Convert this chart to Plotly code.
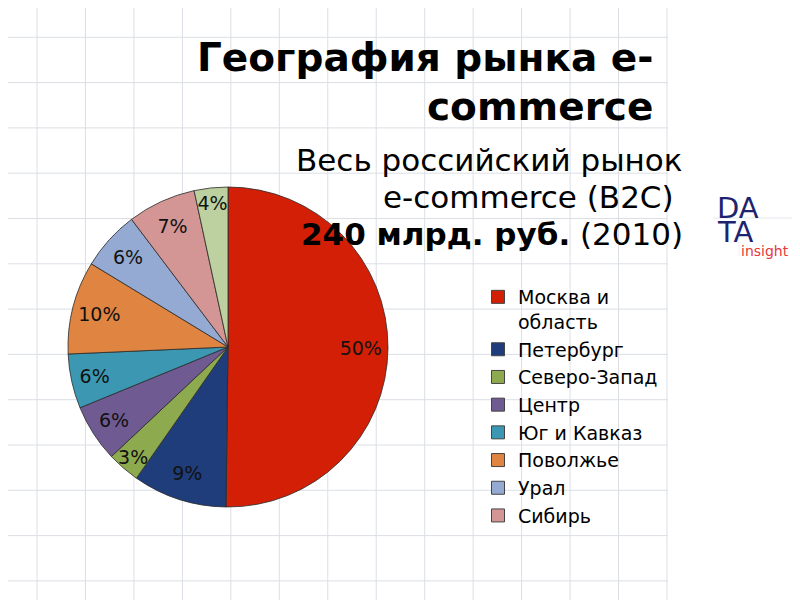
import plotly.graph_objects as go

regions = ["Москва и<br>область", "Петербург", "Северо-Запад", "Центр", "Юг и Кавказ",
           "Поволжье", "Урал", "Сибирь", "Дальний Восток"]
shares = [50.2, 9.5, 3.3, 5.8, 5.5, 9.4, 6.0, 6.9, 3.4]
share_labels = ["50%", "9%", "3%", "6%", "6%", "10%", "6%", "7%", "4%"]
colors = ["#d41f07", "#1f3d7a", "#8eaa4f", "#705a92", "#3c98b2",
          "#df8541", "#94aad2", "#d49695", "#bcd19f"]
legend_count = 8  # the last region is not listed in the legend of the original

W, H = 800, 600
OFF = 8  # the page body margin shifts the figure by this many pixels
FONT = "DejaVu Sans"

def px(x):
    return (x - OFF) / W

def py(y):
    return 1 - (y - OFF) / H

fig = go.Figure()

dom_x = [px(68), px(388)]
dom_y = [py(507), py(187)]

# main pie
fig.add_trace(go.Pie(
    labels=regions, values=shares, sort=False, direction="clockwise", rotation=0,
    marker=dict(colors=colors, line=dict(color="#2a2a2a", width=0.8)),
    textinfo="none", hoverinfo="label+percent", showlegend=False,
    domain=dict(x=dom_x, y=dom_y),
))
# label ring (transparent) to place the percentages near the rim
fig.add_trace(go.Pie(
    labels=regions, values=shares, sort=False, direction="clockwise", rotation=0,
    hole=0.66,
    marker=dict(colors=["rgba(0,0,0,0)"] * len(regions), line=dict(width=0)),
    text=share_labels, textinfo="text", textposition="inside",
    insidetextorientation="horizontal",
    textfont=dict(family=FONT, size=19, color="#111111"),
    hoverinfo="skip", showlegend=False,
    domain=dict(x=dom_x, y=dom_y),
))

# legend entries
for name, c in zip(regions[:legend_count], colors[:legend_count]):
    fig.add_trace(go.Scatter(
        x=[None], y=[None], mode="markers", name=name,
        marker=dict(symbol="square", size=13, color=c, line=dict(color="#444444", width=1)),
    ))

shapes = []
grid_color = "#dbdfe5"
for i in range(14):
    x = 37 + 48.46 * i
    shapes.append(dict(type="line", xref="paper", yref="paper",
                       x0=px(x), x1=px(x), y0=0, y1=1,
                       line=dict(color=grid_color, width=1), layer="below"))
for j in range(13):
    y = 37.3 + 45.3 * j
    shapes.append(dict(type="line", xref="paper", yref="paper",
                       x0=0, x1=px(668), y0=py(y), y1=py(y),
                       line=dict(color=grid_color, width=1), layer="below"))
# logo lines
shapes.append(dict(type="line", xref="paper", yref="paper",
                   x0=px(713), x1=px(794), y0=py(218), y1=py(218),
                   line=dict(color="#e4e7ee", width=1)))
shapes.append(dict(type="line", xref="paper", yref="paper",
                   x0=px(739), x1=px(739), y0=py(198), y1=py(256),
                   line=dict(color="#eef0f4", width=1)))

ann = []
def txt(text, x, y, size, color="black", xanchor="right", yanchor="middle", align="right"):
    ann.append(dict(text=text, x=px(x), y=py(y), xref="paper", yref="paper",
                    xanchor=xanchor, yanchor=yanchor, align=align, showarrow=False,
                    font=dict(family=FONT, size=size, color=color)))

txt("<b>География рынка e-</b>", 655, 57, 39)
txt("<b>commerce</b>", 655, 106, 39)
txt("Весь российский рынок", 685, 160, 31)
txt("e-commerce (B2C)\u00a0", 685, 197, 31)
txt("<b>240 млрд. руб.</b> (2010)", 685, 234, 31)
txt("DA", 715, 208, 29, color="#1c2470", xanchor="left", align="left")
txt("TA", 715, 232, 29, color="#1c2470", xanchor="left", align="left")
txt("insight", 739, 251, 14, color="#e8383d", xanchor="left", align="left")

fig.update_layout(
    width=W, height=H, margin=dict(l=0, r=0, t=0, b=0),
    paper_bgcolor="white", plot_bgcolor="white",
    xaxis=dict(visible=False), yaxis=dict(visible=False),
    shapes=shapes, annotations=ann,
    uniformtext=dict(minsize=19, mode="show"),
    legend=dict(x=px(478), y=py(278), xanchor="left", yanchor="top",
                font=dict(family=FONT, size=19, color="black"),
                bgcolor="rgba(0,0,0,0)", valign="top", itemwidth=30,
                tracegroupgap=0),
    showlegend=True,
)

fig.write_html("out.html")
